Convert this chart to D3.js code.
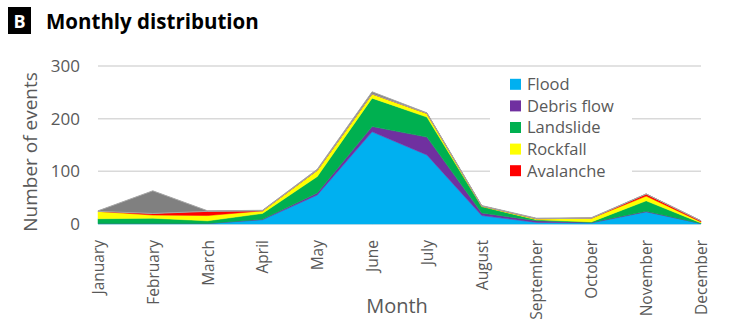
<!DOCTYPE html>
<html>
<head>
<meta charset="utf-8">
<script src="https://cdn.jsdelivr.net/npm/d3@7/dist/d3.min.js"></script>
<style>
  html, body { margin: 0; padding: 0; background: #fff; }
  svg { display: block; }
  text { font-family: "Open Sans", "Noto Sans", sans-serif; }
</style>
</head>
<body>
<svg id="chart" width="736" height="329"></svg>
<script>
// Monthly counts of hazard events, stacked from the bottom up
const months = ["January", "February", "March", "April", "May", "June",
                "July", "August", "September", "October", "November", "December"];
const flood        = [1, 1, 1, 8, 55, 175, 131, 16, 3, 2, 23, 1];
const debrisFlow   = [0, 0, 0, 1, 4, 10, 34, 5, 3, 1, 1, 0];
const landslide    = [9, 10, 5, 11, 31, 54, 38, 12, 2, 1, 20, 1];
const rockfall     = [14, 6, 10, 5, 12, 8, 7, 1, 2, 7, 9, 2];
const avalanche    = [0, 3, 8, 0, 0, 0, 0, 0, 0, 0, 4, 2];
const unclassified = [1, 43, 1, 1, 2, 4, 1, 1, 1, 1, 0, 0];
const yTicks = [0, 100, 200, 300];

const seriesNames = ["Flood", "Debris flow", "Landslide", "Rockfall", "Avalanche", "Unclassified"];
const seriesValues = [flood, debrisFlow, landslide, rockfall, avalanche, unclassified];
const seriesColors = ["#00b0f0", "#7030a0", "#00b050", "#ffff00", "#ff0000", "#808080"];
const legendNames = seriesNames.slice(0, 5);

const rows = months.map((m, i) => {
  const r = { month: m };
  seriesNames.forEach((s, k) => { r[s] = seriesValues[k][i]; });
  return r;
});

const svg = d3.select("#chart");

const x = d3.scalePoint().domain(months).range([98, 701]);
const y = d3.scaleLinear().domain([0, 300]).range([224, 66]);

// Horizontal gridlines
svg.append("g")
  .selectAll("line")
  .data(yTicks)
  .join("line")
  .attr("x1", x.range()[0])
  .attr("x2", x.range()[1])
  .attr("y1", d => y(d))
  .attr("y2", d => y(d))
  .attr("stroke", "#d9d9d9")
  .attr("stroke-width", 1.5);

// Stacked areas
const stack = d3.stack().keys(seriesNames);
const layers = stack(rows);
const area = d3.area()
  .x(d => x(d.data.month))
  .y0(d => y(d[0]))
  .y1(d => y(d[1]));

svg.append("g")
  .selectAll("path")
  .data(layers)
  .join("path")
  .attr("d", area)
  .attr("fill", (d, i) => seriesColors[i])
  .attr("stroke", (d, i) => i === 5 ? "#a6a6a6" : seriesColors[i])
  .attr("stroke-width", (d, i) => i === 5 ? 1 : 0.5)
  .attr("stroke-linejoin", "round");

// Y axis
const yAxis = svg.append("g")
  .attr("transform", "translate(80,0)")
  .call(d3.axisLeft(y).tickValues(yTicks).tickSize(0).tickPadding(0));
yAxis.select(".domain").remove();
yAxis.selectAll("text")
  .attr("fill", "#595959")
  .style("font-size", "17px")
  .style("font-family", "'Open Sans', sans-serif");

// X axis with rotated month labels
const xAxis = svg.append("g")
  .attr("transform", "translate(0,224)")
  .call(d3.axisBottom(x).tickSize(0).tickPadding(0));
xAxis.select(".domain").remove();
xAxis.selectAll("text")
  .attr("fill", "#595959")
  .style("font-size", "15.5px")
  .style("font-family", "'Open Sans', sans-serif")
  .attr("text-anchor", "end")
  .attr("dy", "0.35em")
  .attr("transform", "translate(0,16) rotate(-90)")
  .attr("x", 0)
  .attr("y", 0);

// Axis titles
svg.append("text")
  .attr("transform", "translate(37,152) rotate(-90)")
  .attr("text-anchor", "middle")
  .attr("fill", "#595959")
  .style("font-size", "19px")
  .text("Number of events");

svg.append("text")
  .attr("x", 397)
  .attr("y", 313)
  .attr("text-anchor", "middle")
  .attr("fill", "#595959")
  .style("font-size", "20px")
  .text("Month");

// Legend
const legend = svg.append("g");
legend.append("rect")
  .attr("x", 490).attr("y", 72)
  .attr("width", 142).attr("height", 110)
  .attr("fill", "#fff");
const items = legend.selectAll("g")
  .data(legendNames)
  .join("g")
  .attr("transform", (d, i) => `translate(510,${84.3 + i * 21.6})`);
items.append("rect")
  .attr("x", 0).attr("y", -5.5)
  .attr("width", 11).attr("height", 11)
  .attr("fill", (d, i) => seriesColors[i]);
items.append("text")
  .attr("x", 17).attr("y", 0)
  .attr("dy", "0.36em")
  .attr("fill", "#595959")
  .style("font-size", "16.5px")
  .text(d => d);

// Title with panel letter
svg.append("rect")
  .attr("x", 8).attr("y", 7)
  .attr("width", 23).attr("height", 27)
  .attr("fill", "#000");
svg.append("text")
  .attr("x", 19.5).attr("y", 27.5)
  .attr("text-anchor", "middle")
  .attr("fill", "#fff")
  .style("font-size", "18px")
  .style("font-weight", "bold")
  .text("B");
svg.append("text")
  .attr("x", 46)
  .attr("y", 29)
  .attr("fill", "#000")
  .style("font-size", "20.5px")
  .style("font-weight", "bold")
  .text("Monthly distribution");
</script>
</body>
</html>
